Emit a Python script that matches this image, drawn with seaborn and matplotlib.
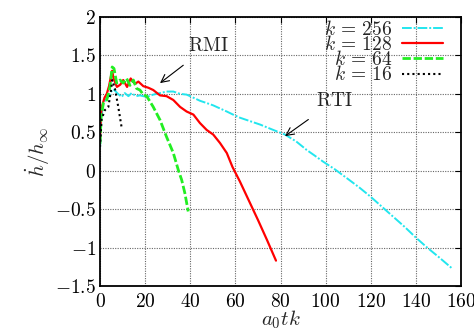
import matplotlib
matplotlib.use("Agg")
import matplotlib.pyplot as plt
import seaborn as sns
import pandas as pd

# ---- data ----
x_256 = [0, 0.5, 1, 1.5, 2, 3, 4, 5, 6, 7, 8, 9.6, 11, 12.6, 14, 16, 17.7, 20.7, 23.6, 26.6,
         29.5, 32.5, 35.5, 38.4, 41.4, 44.3, 47.3, 50.2, 53.2, 56.2, 59, 62, 66, 71, 76, 82,
         87, 91.6, 95, 98.8, 104, 110, 115, 120, 125, 130, 135, 140, 145, 150, 156]
y_256 = [0.3, 0.6, 0.78, 0.88, 0.9, 0.95, 0.97, 1.03, 1.06, 1.03, 1.0, 0.96, 1.01, 0.97, 1.01,
         0.97, 0.98, 0.96, 0.99, 1.01, 1.03, 1.03, 1.0, 0.99, 0.95, 0.91, 0.88, 0.85, 0.81,
         0.77, 0.73, 0.69, 0.65, 0.6, 0.54, 0.47, 0.38, 0.27, 0.2, 0.12, 0.02, -0.11, -0.22,
         -0.34, -0.47, -0.6, -0.73, -0.87, -1.0, -1.12, -1.27]

x_128 = [0, 0.5, 1, 2, 3, 4, 5, 5.4, 6, 7.5, 9, 10.3, 12, 13.6, 15.5, 17, 19.2, 21.4, 23.6,
         26.6, 29.5, 32.5, 35.5, 38.4, 41.4, 44.3, 47.3, 50.2, 53.2, 56.2, 58.7, 62, 66, 70,
         74, 78]
y_128 = [0.4, 0.75, 0.85, 0.95, 1.0, 1.1, 1.25, 1.30, 1.2, 1.09, 1.12, 1.18, 1.09, 1.2, 1.13,
         1.16, 1.10, 1.08, 1.05, 0.98, 0.97, 0.92, 0.83, 0.77, 0.73, 0.62, 0.53, 0.47, 0.36,
         0.23, 0.05, -0.14, -0.39, -0.64, -0.9, -1.17]

x_64 = [0, 0.5, 1.5, 3, 4.4, 5.4, 6.2, 7.4, 8.9, 10.3, 11.8, 13.3, 14.8, 16.2, 17.7, 19.2,
        20.7, 23.6, 26.6, 29.5, 32.5, 34.7, 36.2, 37.6, 39.1]
y_64 = [0.35, 0.7, 0.88, 0.92, 1.09, 1.35, 1.33, 1.14, 1.18, 1.14, 1.2, 1.11, 1.18, 1.07,
        1.05, 0.99, 0.97, 0.83, 0.66, 0.44, 0.23, 0.01, -0.12, -0.29, -0.53]

x_16 = [0, 0.7, 2.2, 3.7, 4.9, 5.4, 6.6, 8.1, 9.6]
y_16 = [0.31, 0.67, 0.79, 0.83, 1.05, 1.18, 1.07, 0.83, 0.56]

labels = [r"$k\,=\,256$", r"$k\,=\,128$", r"$k\,=\,64$", r"$k\,=\,16$"]
x_ticks = [0, 20, 40, 60, 80, 100, 120, 140, 160]
y_ticks = [-1.5, -1, -0.5, 0, 0.5, 1, 1.5, 2]

# ---- style ----
sns.set_style("white")
plt.rcParams["mathtext.fontset"] = "cm"
plt.rcParams["font.family"] = ["DejaVu Serif"]

fig = plt.figure(figsize=(4.74, 3.30), dpi=100)
ax = fig.add_axes([100 / 474, 1 - 286 / 330, 361 / 474, 269 / 330])

series = [
    (x_256, y_256, labels[0], "#22e6ee", (0, (5, 1, 1, 1)), 1.4),
    (x_128, y_128, labels[1], "#ff0000", "-", 1.6),
    (x_64, y_64, labels[2], "#22ee22", (0, (3, 1)), 2.0),
    (x_16, y_16, labels[3], "#000000", (0, (1, 1.5)), 1.5),
]
for xs, ys, lab, col, ls, lw in series:
    df = pd.DataFrame({"x": xs, "y": ys})
    sns.lineplot(data=df, x="x", y="y", ax=ax, color=col, linestyle=ls, linewidth=lw,
                 label=lab, sort=False, estimator=None)

ax.set_xlim(0, 160)
ax.set_ylim(-1.5, 2)
ax.set_xticks(x_ticks)
ax.set_yticks(y_ticks)
ax.set_xticklabels([f"${t:g}$" for t in x_ticks])
ax.set_yticklabels([f"${t:g}$" for t in y_ticks])
ax.tick_params(direction="in", top=True, right=True, length=4, width=0.8,
               labelsize=14, colors="black")
ax.tick_params(axis="y", pad=3)
ax.tick_params(axis="x", pad=5)
ax.grid(True, color="0.4", linestyle=(0, (1, 1.2)), linewidth=0.8)
for s in ax.spines.values():
    s.set_linewidth(1.3)
    s.set_color("black")

ax.set_xlabel(r"$a_0tk$", fontsize=15, labelpad=-2)
ax.set_ylabel(r"$\dot{h}/h_\infty$", fontsize=15, labelpad=2)

ax.annotate(r"$\mathrm{RMI}$", xy=(26.6, 1.14), xytext=(47.9, 1.62), fontsize=14,
            ha="center", va="center",
            arrowprops=dict(arrowstyle="->", color="black", lw=0.8, shrinkA=8, shrinkB=0))
ax.annotate(r"$\mathrm{RTI}$", xy=(82, 0.45), xytext=(104, 0.91), fontsize=14,
            ha="center", va="center",
            arrowprops=dict(arrowstyle="->", color="black", lw=0.8, shrinkA=8, shrinkB=0))

leg = ax.legend(loc="upper right", bbox_to_anchor=((443 - 100) / 361, (286 - 20) / 269),
                frameon=False, markerfirst=False, fontsize=14, handlelength=2.1,
                labelspacing=-0.2, borderpad=0, borderaxespad=0, handletextpad=0.5)
for col in leg._legend_handle_box.get_children():
    col.align = "right"

fig.savefig("out.png", dpi=100)
